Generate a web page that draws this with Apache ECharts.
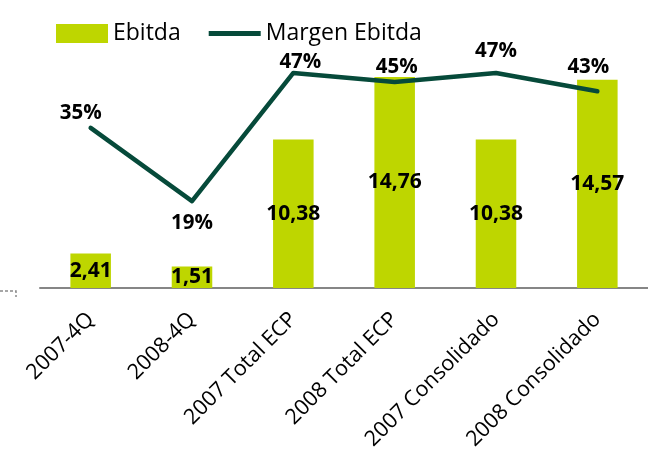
<!DOCTYPE html>
<html>
<head>
<meta charset="utf-8">
<script src="https://cdn.jsdelivr.net/npm/echarts@6/dist/echarts.min.js"></script>
<style>html,body{margin:0;padding:0;background:#fff}#c{width:648px;height:461px}</style>
</head>
<body>
<div id="c"></div>
<script>
var categories = ['2007-4Q', '2008-4Q', '2007 Total ECP', '2008 Total ECP', '2007 Consolidado', '2008 Consolidado'];
var ebitda = [2.41, 1.51, 10.38, 14.76, 10.38, 14.57];
var margen = [0.35, 0.19, 0.47, 0.45, 0.47, 0.43];

var FONT = "'Open Sans', sans-serif";
var lineLabelOffsets = [[-10, -15], [0, 22], [7, -11], [2, -15], [0, -22], [-9, -24]];

var chart = echarts.init(document.getElementById('c'), null, {renderer: 'canvas'});
chart.setOption({
  animation: false,
  textStyle: {fontFamily: FONT},
  legend: {
    left: 51, top: 17,
    itemWidth: 52, itemHeight: 19, itemGap: 28,
    textStyle: {fontSize: 23, color: '#000', fontFamily: FONT},
    data: [
      {name: 'Ebitda', icon: 'rect'},
      {name: 'Margen Ebitda', icon: 'path://M0,0 H100 V10 H0 Z'}
    ]
  },
  grid: {left: 40, top: 2, width: 610, height: 286},
  xAxis: {
    type: 'category',
    data: categories,
    axisLine: {lineStyle: {color: '#868686', width: 2}},
    axisTick: {length: 6, lineStyle: {color: '#868686', width: 2}},
    axisLabel: {rotate: 45, margin: 28, fontSize: 21.5, color: '#000', fontFamily: FONT, interval: 0}
  },
  yAxis: [
    {type: 'value', min: 0, max: 20, show: false, splitLine: {show: false}},
    {type: 'value', min: 0, max: 0.625, show: false, splitLine: {show: false}}
  ],
  graphic: [
    {type: 'polyline', shape: {points: [[0, 291], [16, 291], [16, 297]]},
     style: {stroke: '#8a8a8a', lineWidth: 1.5, lineDash: [3, 2], fill: null}}
  ],
  series: [
    {
      name: 'Ebitda', type: 'bar', data: ebitda, barWidth: '40%',
      itemStyle: {color: '#BED600'},
      label: {show: true, position: 'inside', fontSize: 21, fontWeight: 'bold', color: '#000', fontFamily: FONT,
        formatter: function (p) { return p.value.toFixed(2).replace('.', ','); }}
    },
    {
      name: 'Margen Ebitda', type: 'line', yAxisIndex: 1,
      data: margen.map(function (v, i) {
        return {value: v, label: {offset: lineLabelOffsets[i]}};
      }),
      symbol: 'circle', symbolSize: 3,
      lineStyle: {color: '#064A3A', width: 4.5, cap: 'round', join: 'round'},
      itemStyle: {color: '#064A3A'},
      z: 5,
      label: {show: true, position: 'inside', fontSize: 20.5, fontWeight: 'bold', color: '#000', fontFamily: FONT,
        formatter: function (p) { return Math.round(p.value * 100) + '%'; }}
    }
  ]
});
</script>
</body>
</html>
